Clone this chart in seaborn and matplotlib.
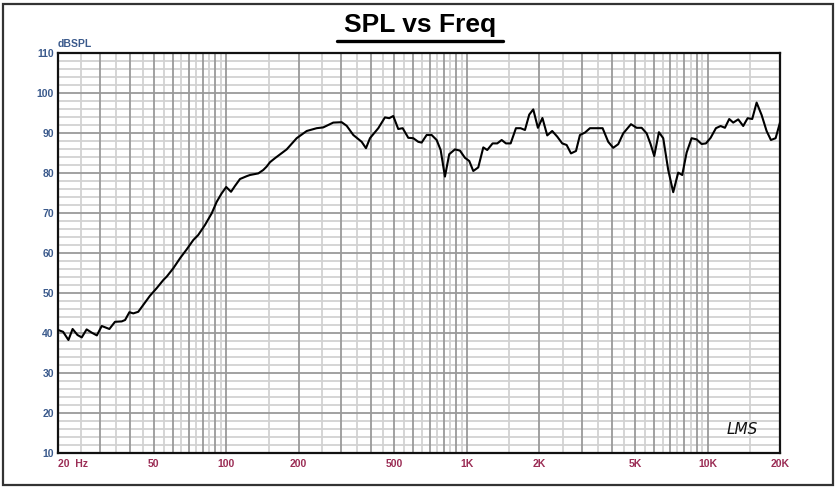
import numpy as np
import pandas as pd
import matplotlib
matplotlib.use("Agg")
import matplotlib.pyplot as plt
import seaborn as sns
from matplotlib.lines import Line2D
from matplotlib.patches import Rectangle

# frequency response (Hz, dB SPL)
freq = [20, 21.0, 22.1, 23.0, 24.1, 25.1, 26.3, 27.6, 29.0, 30.4, 32.7, 34.5,
        36.8, 38.0, 39.6, 41.1, 43.1, 45.2, 48.2, 51.4, 54.8, 56.6, 60.3, 64.3,
        68.5, 73.0, 76.5, 81.6, 87.0, 91.3, 95.7, 100, 104.7, 108.7, 114.1,
        121.6, 125.5, 135.9, 142.5, 147.2, 152, 159.4, 178.3, 196.2, 216,
        237.6, 253, 278.4, 301.8, 316.6, 337.3, 365.4, 380.8, 395.6, 428.4,
        456.6, 475.8, 494.4, 518.6, 541, 570.8, 598.8, 628, 648.6, 680.4,
        713.8, 748.8, 778, 810.6, 844.6, 892, 935.6, 981.6, 1023, 1063, 1115,
        1170, 1215, 1279, 1337, 1395, 1453, 1520, 1599, 1672, 1743, 1816,
        1887, 1973, 2060, 2157, 2262, 2373, 2490, 2597, 2707, 2840, 2950,
        3094, 3246, 3460, 3664, 3866, 4055, 4254, 4463, 4806, 5074, 5323,
        5584, 5800, 6004, 6280, 6543, 6864, 7200, 7551, 7848, 8185, 8585,
        9006, 9448, 9845, 10298, 10834, 11332, 11808, 12304, 12784, 13410,
        14066, 14672, 15332, 15990, 16774, 17594, 18334, 19176, 20000]
spl = [40.75, 40.3, 38.25, 41, 39.5, 38.9, 40.9, 40.1, 39.4, 41.75, 41, 42.8,
       42.9, 43.25, 45.2, 44.9, 45.3, 47, 49.3, 51.2, 53.25, 54.1, 56.2, 58.7,
       60.9, 63.25, 64.5, 67, 69.9, 72.8, 74.9, 76.5, 75.3, 76.75, 78.5,
       79.2, 79.5, 79.9, 80.75, 81.6, 82.7, 83.7, 85.9, 88.7, 90.5,
       91.2, 91.4, 92.6, 92.7, 91.8, 89.5, 87.8, 86.2, 88.7, 91.2,
       93.9, 93.7, 94.25, 91, 91.2, 88.8, 88.7, 87.8, 87.6, 89.5,
       89.5, 88.25, 85.75, 79.1, 84.7, 85.9, 85.6, 83.8, 83, 80.5, 81.4,
       86.4, 85.75, 87.4, 87.4, 88.25, 87.4, 87.4, 91.2, 91.2, 90.75, 94.6,
       95.9, 91.3, 93.75, 89.4, 90.5, 89.1, 87.4, 87, 84.9, 85.5, 89.5,
       90.1, 91.2, 91.2, 91.2, 87.8, 86.3, 87.2, 89.9, 92.2, 91.3, 91.3,
       89.9, 87.2, 84.25, 90.2, 88.7, 80.75, 75.2, 80.1, 79.5, 85.1, 88.7,
       88.4, 87.25, 87.4, 88.8, 91.2, 91.75, 91.3, 93.5, 92.6, 93.4,
       91.75, 93.7, 93.5, 97.6, 94.5, 90.5, 88.25, 88.7, 92.6]

y_ticks = [10, 20, 30, 40, 50, 60, 70, 80, 90, 100, 110]
x_ticks = [20, 50, 100, 200, 500, 1000, 2000, 5000, 10000, 20000]
x_labels = ["20  Hz", "50", "100", "200", "500", "1K", "2K", "5K", "10K", "20K"]

df = pd.DataFrame({"freq": freq, "spl": spl})

sns.set_style("white")
plt.rcParams["font.family"] = ["Liberation Sans", "DejaVu Sans"]

fig = plt.figure(figsize=(8.36, 4.88), dpi=100)
ax = fig.add_axes([58 / 836, 35 / 488, 722 / 836, 400 / 488])

# grid: dark lines at 1..9 x decade, light ones at the halves
major_x = [m * 10 ** e for e in range(1, 5) for m in range(1, 10)]
major_x = [v for v in major_x if 20 <= v <= 20000]
minor_x = [m * 10 ** e for e in range(1, 5) for m in np.arange(1.5, 10, 1.0)]
minor_x = [v for v in minor_x if 20 < v < 20000]
for v in minor_x:
    ax.axvline(v, color="#d2d2d2", lw=1.3, zorder=1)
for v in major_x:
    ax.axvline(v, color="#9a9a9a", lw=1.3, zorder=2)
for v in range(12, 110, 2):
    if v % 10:
        ax.axhline(v, color="#d2d2d2", lw=1.3, zorder=1)
for v in y_ticks:
    ax.axhline(v, color="#9a9a9a", lw=1.3, zorder=2)

sns.lineplot(data=df, x="freq", y="spl", ax=ax, color="black", lw=1.5,
             zorder=5)

ax.set_xscale("log")
ax.set_xlim(20, 20000)
ax.set_ylim(10, 110)
ax.set_xticks(x_ticks)
ax.set_xticklabels(x_labels)
ax.set_xticks([], minor=True)
ax.set_yticks(y_ticks)
ax.set_xlabel("")
ax.set_ylabel("")
ax.tick_params(axis="x", length=0, pad=4, labelsize=7.5, labelcolor="#9b2d55")
ax.tick_params(axis="y", length=0, pad=3, labelsize=7.5, labelcolor="#3b5a8c")
for t in ax.get_xticklabels():
    t.set_fontweight("bold")
for t in ax.get_yticklabels():
    t.set_fontweight("bold")
ax.get_xticklabels()[0].set_horizontalalignment("left")
for s in ax.spines.values():
    s.set_visible(True)
    s.set_color("#111111")
    s.set_linewidth(1.6)

ax.text(0.0, 1.01, "dBSPL", transform=ax.transAxes, fontsize=7.5,
        fontweight="bold", color="#3b5a8c", ha="left", va="bottom")
ax.text(0.97, 0.04, "LMS", transform=ax.transAxes, fontsize=11,
        fontstyle="italic", color="#111111", ha="right", va="bottom",
        family="DejaVu Sans", fontweight="light")

fig.text(420 / 836, 1 - 25 / 488, "SPL vs Freq", fontsize=19,
         fontweight="bold", color="black", ha="center", va="center")
fig.add_artist(Line2D([337 / 836, 503 / 836], [1 - 41 / 488, 1 - 41 / 488],
                      color="black", lw=2.4, transform=fig.transFigure))
fig.add_artist(Rectangle((3 / 836, 3 / 488), 830 / 836, 481 / 488,
                         fill=False, ec="#333333", lw=1.6,
                         transform=fig.transFigure))

fig.savefig("out.png", dpi=100)
